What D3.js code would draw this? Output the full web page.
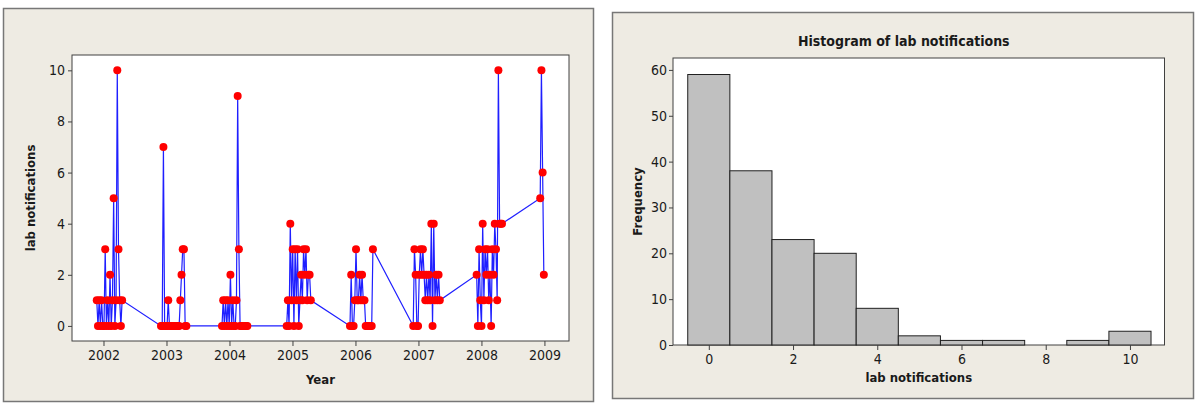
<!DOCTYPE html>
<html>
<head>
<meta charset="utf-8">
<script src="https://cdn.jsdelivr.net/npm/d3@7"></script>
<style>
  html, body { margin: 0; padding: 0; background: #ffffff; }
  svg { display: block; }
  text { font-family: "DejaVu Sans Condensed", "Liberation Sans", sans-serif; fill: #1a1a1a; }
</style>
</head>
<body>
<svg id="chart" width="1200" height="409"></svg>
<script>
// ---------- DATA ----------
// Season start (decimal year) and weekly lab notification counts
const seasonStarts = [2001.893, 2002.913, 2003.881, 2004.908, 2005.913, 2006.917, 2007.924, 2008.933];
const season2002 = [1,0,1,0,1,0,0,3,0,1,0,2,0,1,5,0,1,10,3,1,0,1];
const season2003 = [0,0,7,0,0,0,1,0,0,0,0,0,0,0,0,0,1,2,3,3,0,0];
const season2004 = [0,1,0,1,0,1,0,2,0,1,0,0,1,9,3,0,0,0,0,0,0,0];
const season2005 = [0,1,0,4,1,3,0,3,1,3,0,1,2,1,3,2,3,1,2,2,1];
const season2006 = [0,2,0,0,1,3,1,1,2,1,2,1,1,0,0,0,0,0,0,3];
const season2007 = [0,3,2,0,0,2,3,2,3,2,1,2,1,2,1,4,0,4,1,2,1,2,1];
const season2008 = [2,0,3,1,0,4,1,3,2,3,1,2,0,3,2,4,3,1,10,4,4,4];
const season2009 = [5,10,6,2];
const seasons = [season2002, season2003, season2004, season2005, season2006, season2007, season2008, season2009];
const weekStep = 7 / 365.25;

const yearTicks = [2002, 2003, 2004, 2005, 2006, 2007, 2008, 2009];
const countTicks = [0, 2, 4, 6, 8, 10];

// Histogram
const histBins = [0, 1, 2, 3, 4, 5, 6, 7, 8, 9, 10];
const histFreq = [59, 38, 23, 20, 8, 2, 1, 1, 0, 1, 3];
const histXTicks = [0, 2, 4, 6, 8, 10];
const histYTicks = [0, 10, 20, 30, 40, 50, 60];

// Build the series table
const series = [];
seasons.forEach((vals, si) => {
  vals.forEach((v, i) => series.push({ t: seasonStarts[si] + i * weekStep, v: v }));
});

// ---------- DRAW ----------
const svg = d3.select("#chart");
const panelBg = "#eeebe3";

// Left panel
svg.append("rect").attr("x", 3.5).attr("y", 8.5).attr("width", 590).attr("height", 393)
  .attr("fill", panelBg).attr("stroke", "#777").attr("stroke-width", 1.5);

const L = { left: 72, right: 569, top: 55, bottom: 341 };
const xL = d3.scaleLinear().domain([2001.5, 2009.39]).range([L.left, L.right]);
const yL = d3.scaleLinear().domain([-0.59, 10.6]).range([L.bottom, L.top]);

svg.append("rect").attr("x", L.left).attr("y", L.top)
  .attr("width", L.right - L.left).attr("height", L.bottom - L.top)
  .attr("fill", "#ffffff").attr("stroke", "#404040").attr("stroke-width", 1);

const axL = svg.append("g").attr("transform", `translate(0,${L.bottom})`)
  .call(d3.axisBottom(xL).tickValues(yearTicks).tickFormat(d3.format("d")).tickSize(5).tickPadding(4));
const ayL = svg.append("g").attr("transform", `translate(${L.left},0)`)
  .call(d3.axisLeft(yL).tickValues(countTicks).tickSize(4).tickPadding(3));
[axL, ayL].forEach(g => {
  g.select(".domain").remove();
  g.selectAll("line").attr("stroke", "#404040");
  g.selectAll("text").style("font-size", "14px").attr("fill", "#1a1a1a");
});

const line = d3.line().x(d => xL(d.t)).y(d => yL(d.v));
svg.append("path").datum(series).attr("d", line)
  .attr("fill", "none").attr("stroke", "#1f1fff").attr("stroke-width", 1.2);
svg.append("g").selectAll("circle").data(series).join("circle")
  .attr("cx", d => xL(d.t)).attr("cy", d => yL(d.v)).attr("r", 4)
  .attr("fill", "#ff0000");

svg.append("text").attr("x", (L.left + L.right) / 2).attr("y", 384)
  .attr("text-anchor", "middle").style("font-size", "13px").style("font-weight", "bold").text("Year");
svg.append("text").attr("transform", `translate(35,${(L.top + L.bottom) / 2}) rotate(-90)`)
  .attr("text-anchor", "middle").style("font-size", "13px").style("font-weight", "bold").text("lab notifications");

// Right panel
svg.append("rect").attr("x", 612.5).attr("y", 12.5).attr("width", 581).attr("height", 386)
  .attr("fill", panelBg).attr("stroke", "#777").attr("stroke-width", 1.5);

const R = { left: 673, right: 1164.5, top: 58, bottom: 345 };
const xR = d3.scaleLinear().domain([-0.85, 10.82]).range([R.left, R.right]);
const yR = d3.scaleLinear().domain([0, 62.6]).range([R.bottom, R.top]);

svg.append("rect").attr("x", R.left).attr("y", R.top)
  .attr("width", R.right - R.left).attr("height", R.bottom - R.top)
  .attr("fill", "#ffffff").attr("stroke", "#404040").attr("stroke-width", 1);

svg.append("g").selectAll("rect").data(histBins.map((b, i) => ({ b, f: histFreq[i] })).filter(d => d.f > 0))
  .join("rect")
  .attr("x", d => xR(d.b - 0.5)).attr("y", d => yR(d.f))
  .attr("width", d => xR(d.b + 0.5) - xR(d.b - 0.5)).attr("height", d => yR(0) - yR(d.f))
  .attr("fill", "#c0c0c0").attr("stroke", "#202020").attr("stroke-width", 1);

const axR = svg.append("g").attr("transform", `translate(0,${R.bottom})`)
  .call(d3.axisBottom(xR).tickValues(histXTicks).tickSize(5).tickPadding(4));
const ayR = svg.append("g").attr("transform", `translate(${R.left},0)`)
  .call(d3.axisLeft(yR).tickValues(histYTicks).tickSize(4).tickPadding(2));
[axR, ayR].forEach(g => {
  g.select(".domain").remove();
  g.selectAll("line").attr("stroke", "#404040");
  g.selectAll("text").style("font-size", "14px").attr("fill", "#1a1a1a");
});

svg.append("text").attr("x", (R.left + R.right) / 2 - 15).attr("y", 46)
  .attr("text-anchor", "middle").style("font-size", "14px").style("font-weight", "bold")
  .text("Histogram of lab notifications");
svg.append("text").attr("x", (R.left + R.right) / 2).attr("y", 382)
  .attr("text-anchor", "middle").style("font-size", "13px").style("font-weight", "bold").text("lab notifications");
svg.append("text").attr("transform", `translate(642,${(R.top + R.bottom) / 2}) rotate(-90)`)
  .attr("text-anchor", "middle").style("font-size", "13px").style("font-weight", "bold").text("Frequency");
</script>
</body>
</html>
